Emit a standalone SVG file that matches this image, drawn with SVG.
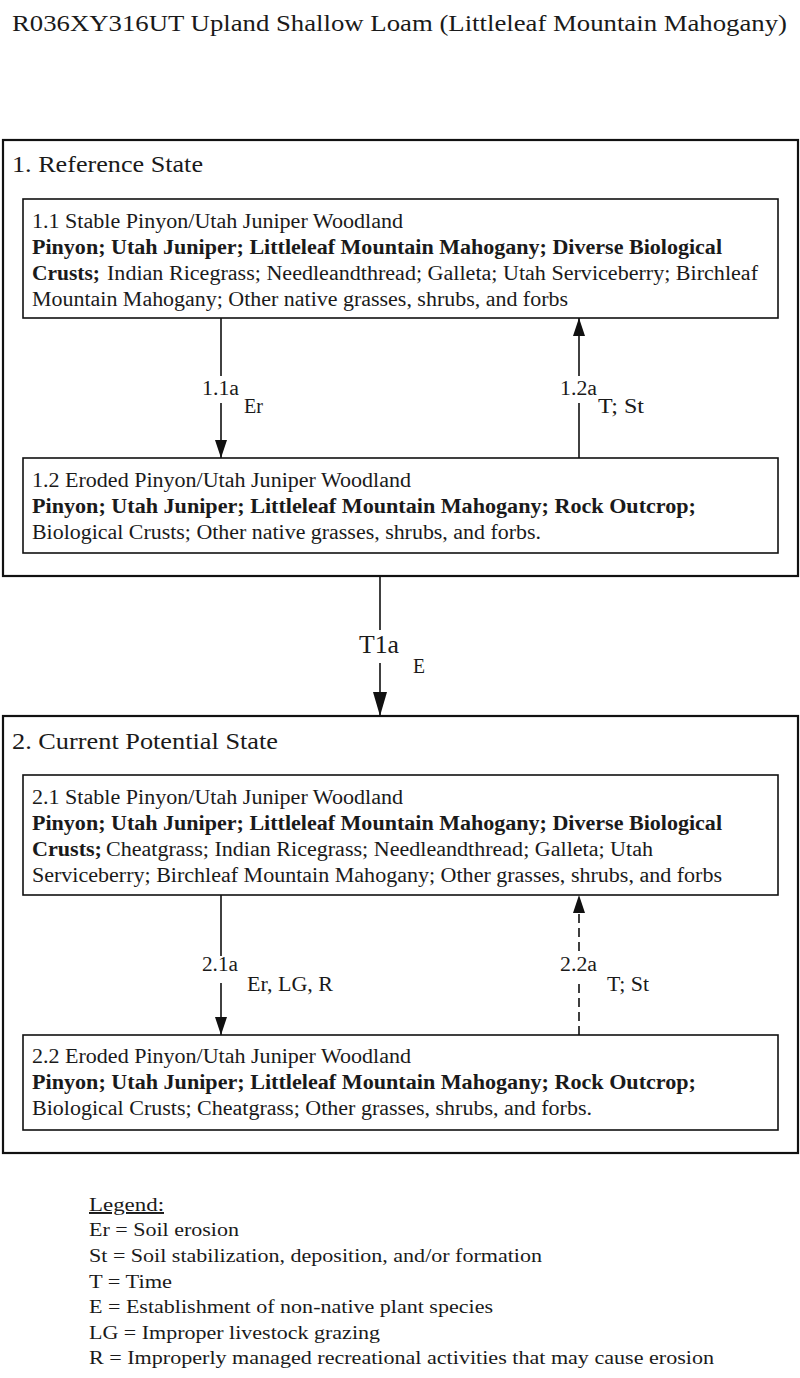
<svg xmlns="http://www.w3.org/2000/svg" width="800" height="1378" viewBox="0 0 800 1378" font-family="'Liberation Serif', Tinos, 'Times New Roman', Times, serif">
<defs>
<style>
text{font-family:'Liberation Serif',Tinos,'Times New Roman',Times,serif;fill:#1a1a1a}
.t{font-size:24px}
.h{font-size:23px}
.n{font-size:20px}
.b{font-size:20px;font-weight:bold}
.lab{font-size:20px}
.big{font-size:25px}
.lg{font-size:19.5px}
.outer{fill:none;stroke:#111;stroke-width:2.2}
.inner{fill:#fff;stroke:#111;stroke-width:1.6}
.conn{stroke:#111;stroke-width:1.6;fill:none}
.dash{stroke-dasharray:9 5}
</style>
<marker id="ah" viewBox="0 0 18 12" refX="18" refY="6" markerWidth="18" markerHeight="12" markerUnits="userSpaceOnUse" orient="auto">
<path d="M0,0 L18,6 L0,12 Z" fill="#111"/>
</marker>
<marker id="ahbig" viewBox="0 0 24 14" refX="24" refY="7" markerWidth="24" markerHeight="14" markerUnits="userSpaceOnUse" orient="auto">
<path d="M0,0 L24,7 L0,14 Z" fill="#111"/>
</marker>
</defs>
<rect width="800" height="1378" fill="#fff"/>
<text class="t" x="12" y="31" textLength="775" lengthAdjust="spacingAndGlyphs">R036XY316UT Upland Shallow Loam (Littleleaf Mountain Mahogany)</text>

<g id="state1">
<rect class="outer" x="3" y="140" width="795" height="436"/>
<text class="h" x="12" y="172" textLength="191" lengthAdjust="spacingAndGlyphs">1. Reference State</text>
</g>
<g id="state2">
<rect class="outer" x="3" y="716" width="795" height="437"/>
<text class="h" x="12" y="749" textLength="266" lengthAdjust="spacingAndGlyphs">2. Current Potential State</text>
</g>

<g id="connectors">
<line class="conn" x1="221" y1="318" x2="221" y2="458" marker-end="url(#ah)"/>
<line class="conn" x1="579" y1="458" x2="579" y2="318" marker-end="url(#ah)"/>
<line class="conn" x1="380" y1="576" x2="380" y2="716" stroke-width="2" marker-end="url(#ahbig)"/>
<line class="conn" x1="221" y1="895" x2="221" y2="1035" marker-end="url(#ah)"/>
<line class="conn dash" x1="579" y1="1035" x2="579" y2="895" marker-end="url(#ah)"/>
<rect x="198" y="376" width="44" height="27" fill="#fff"/>
<rect x="556" y="376" width="46" height="27" fill="#fff"/>
<rect x="356" y="630" width="46" height="33" fill="#fff"/>
<rect x="198" y="956" width="44" height="27" fill="#fff"/>
<rect x="556" y="956" width="46" height="27" fill="#fff"/>
<text class="lab" x="202" y="395" textLength="37" lengthAdjust="spacingAndGlyphs">1.1a</text>
<text class="lab" x="244" y="413" textLength="19" lengthAdjust="spacingAndGlyphs">Er</text>
<text class="lab" x="560" y="395" textLength="37" lengthAdjust="spacingAndGlyphs">1.2a</text>
<text class="lab" x="598" y="413" textLength="46" lengthAdjust="spacingAndGlyphs">T; St</text>
<text class="big" x="359" y="653" textLength="40" lengthAdjust="spacingAndGlyphs">T1a</text>
<text class="lab" x="413" y="673" textLength="12" lengthAdjust="spacingAndGlyphs">E</text>
<text class="lab" x="202" y="971" textLength="36" lengthAdjust="spacingAndGlyphs">2.1a</text>
<text class="lab" x="247" y="991" textLength="86" lengthAdjust="spacingAndGlyphs">Er, LG, R</text>
<text class="lab" x="560" y="971" textLength="37" lengthAdjust="spacingAndGlyphs">2.2a</text>
<text class="lab" x="607" y="991" textLength="42" lengthAdjust="spacingAndGlyphs">T; St</text>
</g>

<g id="n11">
<rect class="inner" x="23" y="199" width="755" height="119"/>
<text class="n" x="32" y="228" textLength="371" lengthAdjust="spacingAndGlyphs">1.1 Stable Pinyon/Utah Juniper Woodland</text>
<text class="b" x="32" y="254" textLength="690" lengthAdjust="spacingAndGlyphs">Pinyon; Utah Juniper; Littleleaf Mountain Mahogany; Diverse Biological</text>
<text class="b" x="32" y="280" textLength="68" lengthAdjust="spacingAndGlyphs">Crusts;</text>
<text class="n" x="107" y="280" textLength="651" lengthAdjust="spacingAndGlyphs">Indian Ricegrass; Needleandthread; Galleta; Utah Serviceberry; Birchleaf</text>
<text class="n" x="32" y="306" textLength="536" lengthAdjust="spacingAndGlyphs">Mountain Mahogany; Other native grasses, shrubs, and forbs</text>
</g>

<g id="n12">
<rect class="inner" x="23" y="458" width="755" height="95"/>
<text class="n" x="32" y="487" textLength="379" lengthAdjust="spacingAndGlyphs">1.2 Eroded Pinyon/Utah Juniper Woodland</text>
<text class="b" x="32" y="513" textLength="664" lengthAdjust="spacingAndGlyphs">Pinyon; Utah Juniper; Littleleaf Mountain Mahogany; Rock Outcrop;</text>
<text class="n" x="32" y="539" textLength="509" lengthAdjust="spacingAndGlyphs">Biological Crusts; Other native grasses, shrubs, and forbs.</text>
</g>

<g id="n21">
<rect class="inner" x="23" y="775" width="755" height="120"/>
<text class="n" x="32" y="804" textLength="371" lengthAdjust="spacingAndGlyphs">2.1 Stable Pinyon/Utah Juniper Woodland</text>
<text class="b" x="32" y="830" textLength="690" lengthAdjust="spacingAndGlyphs">Pinyon; Utah Juniper; Littleleaf Mountain Mahogany; Diverse Biological</text>
<text class="b" x="32" y="856" textLength="70" lengthAdjust="spacingAndGlyphs">Crusts;</text>
<text class="n" x="106" y="856" textLength="547" lengthAdjust="spacingAndGlyphs">Cheatgrass; Indian Ricegrass; Needleandthread; Galleta; Utah</text>
<text class="n" x="32" y="882" textLength="690" lengthAdjust="spacingAndGlyphs">Serviceberry; Birchleaf Mountain Mahogany; Other grasses, shrubs, and forbs</text>
</g>

<g id="n22">
<rect class="inner" x="23" y="1035" width="755" height="95"/>
<text class="n" x="32" y="1063" textLength="379" lengthAdjust="spacingAndGlyphs">2.2 Eroded Pinyon/Utah Juniper Woodland</text>
<text class="b" x="32" y="1089" textLength="664" lengthAdjust="spacingAndGlyphs">Pinyon; Utah Juniper; Littleleaf Mountain Mahogany; Rock Outcrop;</text>
<text class="n" x="32" y="1115" textLength="560" lengthAdjust="spacingAndGlyphs">Biological Crusts; Cheatgrass; Other grasses, shrubs, and forbs.</text>
</g>

<g id="legend">
<text class="lg" x="89" y="1211" textLength="75" lengthAdjust="spacingAndGlyphs" text-decoration="underline">Legend:</text>
<text class="lg" x="89" y="1236" textLength="150" lengthAdjust="spacingAndGlyphs">Er = Soil erosion</text>
<text class="lg" x="89" y="1262" textLength="453" lengthAdjust="spacingAndGlyphs">St = Soil stabilization, deposition, and/or formation</text>
<text class="lg" x="89" y="1288" textLength="83" lengthAdjust="spacingAndGlyphs">T = Time</text>
<text class="lg" x="89" y="1313" textLength="404" lengthAdjust="spacingAndGlyphs">E = Establishment of non-native plant species</text>
<text class="lg" x="89" y="1339" textLength="291" lengthAdjust="spacingAndGlyphs">LG = Improper livestock grazing</text>
<text class="lg" x="89" y="1364" textLength="625" lengthAdjust="spacingAndGlyphs">R = Improperly managed recreational activities that may cause erosion</text>
</g>
</svg>
